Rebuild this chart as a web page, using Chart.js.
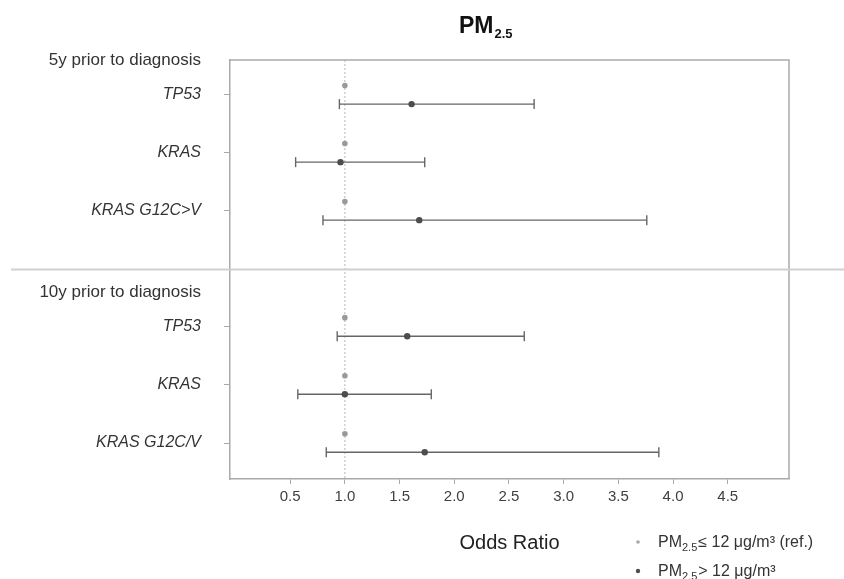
<!DOCTYPE html>
<html>
<head>
<meta charset="utf-8">
<script src="https://cdn.jsdelivr.net/npm/chart.js@4/dist/chart.umd.min.js"></script>
<style>
html,body{margin:0;padding:0;background:#fff;}
#wrap{width:844px;height:579px;position:relative;}
</style>
</head>
<body>
<div id="wrap"><canvas id="c" width="844" height="579"></canvas></div>
<script>
// ---- data ----
const periods = ['5y prior to diagnosis', '10y prior to diagnosis'];
const genes5y = ['TP53', 'KRAS', 'KRAS G12C>V'];
const genes10y = ['TP53', 'KRAS', 'KRAS G12C/V'];
const refOR = [1.00, 1.00, 1.00, 1.00, 1.00, 1.00];
const highOR = [1.61, 0.96, 1.68, 1.57, 1.00, 1.73];
const ciLower = [0.95, 0.55, 0.80, 0.93, 0.57, 0.83];
const ciUpper = [2.73, 1.73, 3.76, 2.64, 1.79, 3.87];
const xTickValues = [0.5, 1.0, 1.5, 2.0, 2.5, 3.0, 3.5, 4.0, 4.5];
const refLabel = 'PM2.5 ≤ 12 μg/m³ (ref.)';
const highLabel = 'PM2.5 > 12 μg/m³';
const titleMain = 'PM';
const titleSub = '2.5';
const xTitle = 'Odds Ratio';

// ---- layout of rows (row units on the y scale) ----
const geneGroups = [genes5y, genes10y];
const rows = [];
periods.forEach((p, g) => {
  rows.push({ label: p, y: g * 4, header: true });
  geneGroups[g].forEach((gn, j) => rows.push({ label: gn, y: g * 4 + 0.6 + j, header: false }));
});
const catY = rows.filter(r => !r.header).map(r => r.y);
const Y_MAX = 7.22;
const SEP_Y = 3.6;
const OFF = 0.16;

const ciData = [];
catY.forEach((y, i) => {
  ciData.push({ x: ciLower[i], y: y + OFF });
  ciData.push({ x: ciUpper[i], y: y + OFF });
  ciData.push({ x: null, y: null });
});

const FAMILY = '"Liberation Sans", Arial, Helvetica, sans-serif';
Chart.defaults.font.family = FAMILY;
Chart.defaults.color = '#333';

const decor = {
  id: 'decor',
  afterDraw(chart) {
    const { ctx, chartArea: a, scales } = chart;
    ctx.save();
    // frame top & right
    ctx.strokeStyle = '#aaa';
    ctx.lineWidth = 1.5;
    ctx.beginPath();
    ctx.moveTo(a.left, a.top);
    ctx.lineTo(a.right, a.top);
    ctx.lineTo(a.right, a.bottom);
    ctx.stroke();
    // separator between periods
    const sy = Math.round(scales.y.getPixelForValue(SEP_Y)) + 0.5;
    ctx.strokeStyle = '#d0d0d0';
    ctx.lineWidth = 2;
    ctx.beginPath();
    ctx.moveTo(11, sy);
    ctx.lineTo(chart.width, sy);
    ctx.stroke();
    // title
    ctx.fillStyle = '#111';
    ctx.textBaseline = 'alphabetic';
    ctx.textAlign = 'left';
    ctx.font = 'bold 23px ' + FAMILY;
    const tx = 459;
    ctx.fillText(titleMain, tx, 33);
    const tw = ctx.measureText(titleMain).width;
    ctx.font = 'bold 13px ' + FAMILY;
    ctx.fillText(titleSub, tx + tw + 1, 38);
    // legend
    const items = [
      { label: chart.data.datasets[1].label, color: '#a6a6a6', r: 1.8, y: 547 },
      { label: chart.data.datasets[0].label, color: '#4d4d4d', r: 2.2, y: 576 }
    ];
    items.forEach(it => {
      ctx.fillStyle = it.color;
      ctx.beginPath();
      ctx.arc(638, it.y - 5, it.r, 0, Math.PI * 2);
      ctx.fill();
      ctx.fillStyle = '#333';
      let x = 658;
      const m = it.label.match(/^PM(2\.5)\s?(.*)$/);
      ctx.font = '16px ' + FAMILY;
      ctx.fillText('PM', x, it.y);
      x += ctx.measureText('PM').width;
      ctx.font = '11px ' + FAMILY;
      ctx.fillText(m[1], x, it.y + 4);
      x += ctx.measureText(m[1]).width + 1;
      ctx.font = '16px ' + FAMILY;
      ctx.fillText(m[2], x, it.y);
    });
    ctx.restore();
  }
};

new Chart(document.getElementById('c'), {
  type: 'scatter',
  data: {
    datasets: [
      {
        label: highLabel,
        data: catY.map((y, i) => ({ x: highOR[i], y: y + OFF })),
        pointRadius: 3.2,
        pointBackgroundColor: '#4d4d4d',
        pointBorderColor: '#4d4d4d',
        pointBorderWidth: 0
      },
      {
        label: refLabel,
        data: catY.map((y, i) => ({ x: refOR[i], y: y - OFF })),
        pointRadius: 2.8,
        pointBackgroundColor: '#999',
        pointBorderColor: '#999',
        pointBorderWidth: 0
      },
      {
        type: 'line',
        label: 'CI',
        data: ciData,
        showLine: true,
        spanGaps: false,
        borderColor: '#666',
        borderWidth: 1.4,
        pointStyle: 'line',
        pointRotation: 90,
        pointRadius: 5,
        pointBorderColor: '#666',
        pointBorderWidth: 1.4
      },
      {
        type: 'line',
        label: 'ref line',
        data: [{ x: 1, y: 0 }, { x: 1, y: Y_MAX }],
        showLine: true,
        borderColor: '#c4c4c4',
        borderWidth: 1.2,
        borderDash: [2, 2],
        pointRadius: 0
      }
    ]
  },
  options: {
    responsive: false,
    animation: false,
    devicePixelRatio: 1,
    layout: { padding: { top: 60, right: 55, left: 0, bottom: 0 } },
    plugins: { legend: { display: false }, tooltip: { enabled: false }, title: { display: false } },
    scales: {
      x: {
        type: 'linear',
        min: -0.05,
        max: 5.06,
        afterBuildTicks: s => { s.ticks = xTickValues.map(v => ({ value: v })); },
        afterFit: s => { s.height = 100; },
        ticks: { autoSkip: false, maxRotation: 0, padding: 4, color: '#404040', font: { size: 15 }, callback: v => Number(v).toFixed(1) },
        grid: { drawOnChartArea: false, drawTicks: true, tickLength: 5, tickColor: '#aaa', tickWidth: 1 },
        border: { display: true, color: '#aaa', width: 1.5 },
        title: { display: true, text: xTitle, color: '#222', font: { size: 20 }, padding: { top: 0, bottom: 24 } }
      },
      y: {
        type: 'linear',
        reverse: true,
        min: 0,
        max: Y_MAX,
        afterBuildTicks: s => { s.ticks = rows.map(r => ({ value: r.y })); },
        afterFit: s => { s.width = 230; },
        ticks: {
          autoSkip: false,
          padding: 23,
          color: '#333',
          callback: (v, i) => rows[i] ? rows[i].label : '',
          font: c => (rows[c.index] && rows[c.index].header) ? { size: 17, style: 'normal' } : { size: 16, style: 'italic' }
        },
        grid: {
          drawOnChartArea: false,
          drawTicks: true,
          tickLength: 6,
          tickWidth: 1,
          tickColor: c => (rows[c.index] && rows[c.index].header) ? 'rgba(0,0,0,0)' : '#aaa'
        },
        border: { display: true, color: '#aaa', width: 1.5 }
      }
    }
  },
  plugins: [decor]
});
</script>
</body>
</html>
